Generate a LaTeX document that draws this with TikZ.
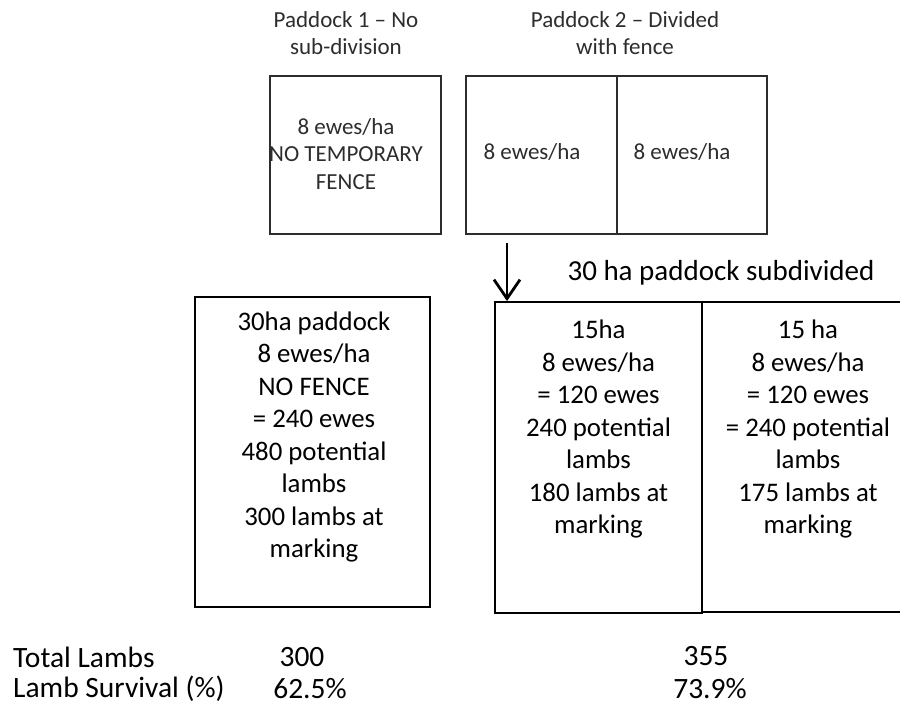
\documentclass[tikz,border=0pt]{standalone}
\usepackage{fontspec}
\setmainfont{Carlito}
\usetikzlibrary{arrows.meta}
\definecolor{topgray}{RGB}{45,45,45}
\tikzset{
  toptext/.style={text=topgray, align=center, inner sep=0pt, font=\fontsize{23}{27.5}\selectfont},
  topbox/.style={draw=topgray, line width=1.6pt, inner sep=0pt},
  lowbox/.style={draw=black, line width=1.8pt, inner sep=0pt},
  lowtext/.style={align=center, inner sep=0pt, font=\fontsize{26.8}{32.5}\selectfont},
  bottext/.style={inner sep=0pt, font=\fontsize{29.5}{34}\selectfont},
  downarrow/.style={line width=2.8pt, -{Straight Barb[length=19pt,width=26pt,line width=2.8pt]}}
}
\begin{document}
\begin{tikzpicture}[x=1pt,y=-1pt]
\clip (0,0) rectangle (900,706);
\fill[white] (0,0) rectangle (900,706);
% titles
\node[toptext] (t1) at (346,33) {Paddock 1 – No\\sub-division};
\node[toptext] (t2) at (625,33) {Paddock 2 – Divided\\with fence};
% top boxes
\node[topbox, minimum width=171pt, minimum height=158pt] (p1) at (355.5,155) {};
\node[toptext] (p1t) at (346,154) {8 ewes/ha\\NO TEMPORARY\\FENCE};
\node[topbox, minimum width=151pt, minimum height=158pt] (p2a) at (541.5,155) {};
\node[topbox, minimum width=150pt, minimum height=158pt] (p2b) at (692,155) {};
\node[toptext] (p2at) at (532,152) {8 ewes/ha};
\node[toptext] (p2bt) at (682,152) {8 ewes/ha};
% heading
\node[inner sep=0pt, font=\fontsize{29}{34}\selectfont] (sub) at (721,273) {30 ha paddock subdivided};
% lower boxes
\node[lowbox, minimum width=235pt, minimum height=310pt] (L) at (312.5,452) {};
\node[lowtext] (Lt) at (314,437) {30ha paddock\\8 ewes/ha\\NO FENCE\\= 240 ewes\\480 potential\\lambs\\300 lambs at\\marking};
\node[lowbox, minimum width=207pt, minimum height=311pt] (A) at (598.5,457.5) {};
\node[lowtext] (At) at (598.5,429) {15ha\\8 ewes/ha\\= 120 ewes\\240 potential\\lambs\\180 lambs at\\marking};
\node[lowbox, minimum width=218pt, minimum height=310pt] (B) at (811,457) {};
\node[lowtext] (Bt) at (808,429) {15 ha\\8 ewes/ha\\= 120 ewes\\= 240 potential\\lambs\\175 lambs at\\marking};
% arrow
\coordinate (as) at (507,243);
\draw[downarrow] (as) -- (as |- A.north);
% bottom rows
\node[bottext, anchor=west] (tl) at (13,657) {Total Lambs};
\node[bottext, anchor=west] (ls) at (13,689) {Lamb Survival (\%)};
\node[bottext] (v1) at (302,657) {300};
\node[bottext] (v2) at (310,689) {62.5\%};
\node[bottext] (v3) at (706,656) {355};
\node[bottext] (v4) at (710,689) {73.9\%};
\end{tikzpicture}
\end{document}
